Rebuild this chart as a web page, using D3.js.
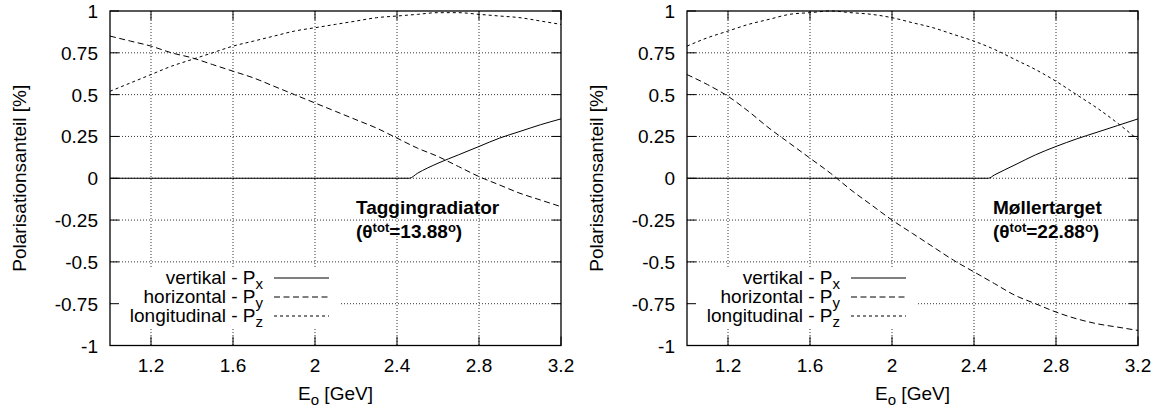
<!DOCTYPE html>
<html>
<head>
<meta charset="utf-8">
<script src="https://cdn.jsdelivr.net/npm/d3@7"></script>
<style>
  body { margin: 0; background: #fff; }
  text { font-family: "Liberation Sans", Arial, sans-serif; fill: #000; }
</style>
</head>
<body>
<svg id="mainsvg" width="1160" height="408"></svg>
<script>
const svg = d3.select('#mainsvg');

// tick labels
const xTicks = [1.2, 1.6, 2, 2.4, 2.8, 3.2];
const yTicks = [-1, -0.75, -0.5, -0.25, 0, 0.25, 0.5, 0.75, 1];

// shared energy grid [GeV]
const energy = [1.0, 1.1, 1.2, 1.3, 1.4, 1.5, 1.6, 1.7, 1.8, 1.9, 2.0, 2.1,
                2.2, 2.3, 2.4, 2.5, 2.6, 2.7, 2.8, 2.9, 3.0, 3.1, 3.2];

// Taggingradiator
const tagPxEnergy = [1.0, 2.46, 2.5, 2.6, 2.7, 2.8, 2.9, 3.0, 3.1, 3.2];
const tagPx = [0, 0, 0.03, 0.09, 0.14, 0.19, 0.24, 0.28, 0.32, 0.355];
const tagPy = [0.85, 0.82, 0.79, 0.75, 0.72, 0.68, 0.64, 0.60, 0.55, 0.50, 0.45, 0.40,
               0.35, 0.30, 0.24, 0.18, 0.13, 0.07, 0.01, -0.04, -0.09, -0.13, -0.17];
const tagPz = [0.52, 0.57, 0.62, 0.67, 0.71, 0.75, 0.79, 0.82, 0.85, 0.88, 0.90, 0.92,
               0.94, 0.96, 0.97, 0.98, 0.99, 0.99, 0.98, 0.97, 0.96, 0.94, 0.92];

// Møllertarget
const molPxEnergy = [1.0, 2.47, 2.5, 2.6, 2.7, 2.8, 2.9, 3.0, 3.1, 3.2];
const molPx = [0, 0, 0.02, 0.08, 0.14, 0.19, 0.235, 0.275, 0.315, 0.355];
const molPy = [0.62, 0.56, 0.49, 0.40, 0.30, 0.21, 0.12, 0.03, -0.07, -0.16, -0.25, -0.33,
               -0.41, -0.49, -0.56, -0.63, -0.70, -0.75, -0.80, -0.84, -0.87, -0.89, -0.91];
const molPz = [0.79, 0.84, 0.88, 0.92, 0.95, 0.98, 0.99, 1.0, 0.99, 0.98, 0.96, 0.93,
               0.90, 0.86, 0.82, 0.77, 0.71, 0.65, 0.58, 0.50, 0.42, 0.33, 0.23];

const legendNames = ['vertikal - P', 'horizontal - P', 'longitudinal - P'];
const legendSubs = ['x', 'y', 'z'];
const dashes = [null, '6,3.5', '3,3'];

const plotTop = 11, plotBottom = 345.5;
const fs = 19, fsSmall = 15;

function drawPanel(left, right, pxE, px, py, pz, title, angle, titleX) {
  const x = d3.scaleLinear().domain([1.0, 3.2]).range([left, right]);
  const y = d3.scaleLinear().domain([-1, 1]).range([plotBottom, plotTop]);
  const g = svg.append('g');

  // grid
  g.selectAll('.gx').data(xTicks.filter(d => d < 3.2)).join('line')
    .attr('x1', d => x(d)).attr('x2', d => x(d)).attr('y1', plotTop).attr('y2', plotBottom)
    .attr('stroke', '#000').attr('stroke-width', 0.8).attr('stroke-dasharray', '1,2');
  g.selectAll('.gy').data(yTicks.filter(d => d > -1 && d < 1)).join('line')
    .attr('x1', left).attr('x2', right).attr('y1', d => y(d)).attr('y2', d => y(d))
    .attr('stroke', '#000').attr('stroke-width', 0.8).attr('stroke-dasharray', '1,2');

  // opaque key box
  g.append('rect').attr('x', left + 1).attr('y', 268).attr('width', 228).attr('height', 60)
    .attr('fill', '#fff');

  // ticks (inside, mirrored)
  const tl = 9;
  xTicks.forEach(t => {
    g.append('line').attr('x1', x(t)).attr('x2', x(t)).attr('y1', plotBottom).attr('y2', plotBottom - tl)
      .attr('stroke', '#000');
    g.append('line').attr('x1', x(t)).attr('x2', x(t)).attr('y1', plotTop).attr('y2', plotTop + tl)
      .attr('stroke', '#000');
  });
  yTicks.forEach(t => {
    g.append('line').attr('x1', left).attr('x2', left + tl).attr('y1', y(t)).attr('y2', y(t))
      .attr('stroke', '#000');
    g.append('line').attr('x1', right).attr('x2', right - tl).attr('y1', y(t)).attr('y2', y(t))
      .attr('stroke', '#000');
  });

  // tick labels
  g.selectAll('.xl').data(xTicks).join('text')
    .attr('x', d => x(d)).attr('y', 372).attr('text-anchor', 'middle')
    .attr('font-size', fs).text(d => d);
  g.selectAll('.yl').data(yTicks).join('text')
    .attr('x', left - 12).attr('y', d => y(d) + 7).attr('text-anchor', 'end')
    .attr('font-size', fs).text(d => d);

  // curves
  const line = d3.line().curve(d3.curveMonotoneX).x(d => x(d[0])).y(d => y(d[1]));
  const series = [
    d3.zip(pxE, px),
    d3.zip(energy, py),
    d3.zip(energy, pz)
  ];
  g.selectAll('.curve').data(series).join('path')
    .attr('d', line).attr('fill', 'none').attr('stroke', '#000').attr('stroke-width', 1)
    .attr('stroke-dasharray', (d, i) => dashes[i]);

  // key
  legendNames.forEach((name, i) => {
    const by = 284 + i * 19;
    const t = g.append('text').attr('x', left + 153).attr('y', by)
      .attr('text-anchor', 'end').attr('font-size', fs);
    t.append('tspan').text(name);
    t.append('tspan').attr('dy', 5).attr('font-size', fsSmall).text(legendSubs[i]);
    g.append('line').attr('x1', left + 164).attr('x2', left + 219)
      .attr('y1', by - 6).attr('y2', by - 6)
      .attr('stroke', '#000').attr('stroke-width', 1).attr('stroke-dasharray', dashes[i]);
  });

  // border
  g.append('rect').attr('x', left).attr('y', plotTop).attr('width', right - left)
    .attr('height', plotBottom - plotTop).attr('fill', 'none').attr('stroke', '#000')
    .attr('stroke-width', 1.3);

  // axis titles
  const xt = g.append('text').attr('x', (left + right) / 2).attr('y', 400)
    .attr('text-anchor', 'middle').attr('font-size', fs);
  xt.append('tspan').text('E');
  xt.append('tspan').attr('dy', 5).attr('font-size', fsSmall).text('o');
  xt.append('tspan').attr('dy', -5).text(' [GeV]');

  g.append('text')
    .attr('transform', `translate(${left - 84}, ${(plotTop + plotBottom) / 2}) rotate(-90)`)
    .attr('text-anchor', 'middle').attr('font-size', fs)
    .text('Polarisationsanteil [%]');

  // label
  g.append('text').attr('x', titleX).attr('y', 214).attr('font-size', fs)
    .attr('font-weight', 'bold').text(title);
  const lt = g.append('text').attr('x', titleX).attr('y', 238).attr('font-size', fs)
    .attr('font-weight', 'bold');
  lt.append('tspan').text('(\u03b8');
  lt.append('tspan').attr('dy', -6.5).attr('font-size', 13).text('tot');
  lt.append('tspan').attr('dy', 6.5).text('=' + angle);
  lt.append('tspan').attr('dy', -6.5).attr('font-size', 13).text('o');
  lt.append('tspan').attr('dy', 6.5).text(')');
}

drawPanel(110, 561, tagPxEnergy, tagPx, tagPy, tagPz, 'Taggingradiator', '13.88', 356);
drawPanel(687, 1138, molPxEnergy, molPx, molPy, molPz, 'M\u00f8llertarget', '22.88', 993);
</script>
</body>
</html>
